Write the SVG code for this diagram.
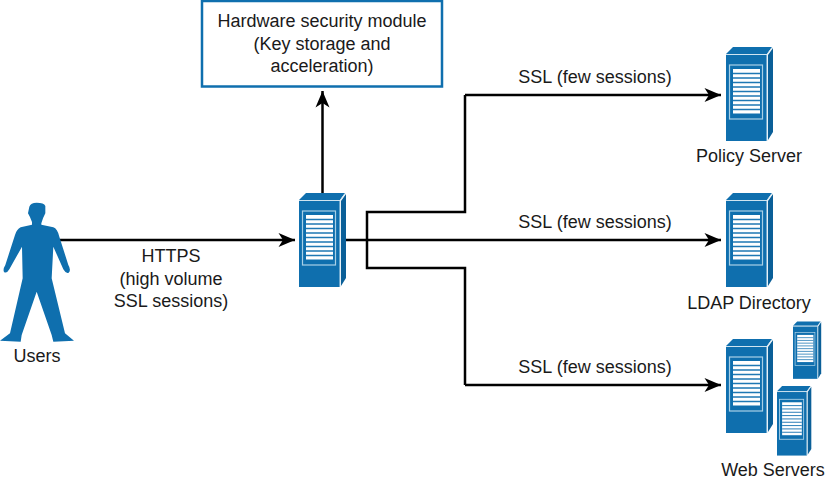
<svg xmlns="http://www.w3.org/2000/svg" xmlns:xlink="http://www.w3.org/1999/xlink" width="828" height="477" viewBox="0 0 828 477">
<style>
text{font-family:"Liberation Sans",Arial,sans-serif;font-size:18px;fill:#1a1a1a;text-anchor:middle}
.c{fill:none;stroke:#000;stroke-width:2.5}
.b{fill:#0f6fae}
.d{fill:#0a5f98}
.w{fill:#fff}
.l{fill:none;stroke:#a9d0e6;stroke-width:1.2}
</style>
<defs>
<marker id="ah" markerUnits="userSpaceOnUse" markerWidth="18" markerHeight="16" refX="17" refY="8" orient="auto"><path d="M17,8 L0.5,1 L5,8 L0.5,15 Z" fill="#000"/></marker>
<g id="srv">
<path class="b" d="M0,7 L7,0 L46,0 L41,7 Z"/>
<rect class="b" x="0" y="8" width="41" height="86"/>
<path class="d" d="M42,8 L47,1 L47,85 L42,93 Z"/>
<path d="M0,7.5 H41 L46,0.5 M41,7.5 V94" fill="none" stroke="#cfe4f0" stroke-width="1"/>
<rect class="l" x="3.5" y="18" width="33" height="54"/>
<rect class="w" x="7" y="22" width="27" height="44.5"/>
<path d="M7,26.5 H34 M7,31 H34 M7,35.500 H34 M7,40 H34 M7,44.500 H34 M7,49 H34 M7,53.500 H34 M7,58 H34 M7,62.500 H34" stroke="#1f78b4" stroke-width="1.300"/>
</g>
</defs>
<g id="connectors">
<path class="c" d="M60,240 H295" marker-end="url(#ah)"/>
<path class="c" d="M322.500,193 V91" marker-end="url(#ah)"/>
<path class="c" d="M346,240 H721" marker-end="url(#ah)"/>
<path class="c" d="M465,95 H721" marker-end="url(#ah)"/>
<path class="c" d="M465,385 H721" marker-end="url(#ah)"/>
<path class="c" d="M465,95 V212 H367 V268 H465 V385"/>
</g>
<g id="hsm">
<rect x="202" y="1" width="240" height="85.500" fill="#fff" stroke="#0f6fae" stroke-width="2.500"/>
<text x="322" y="27">Hardware security module</text>
<text x="322" y="50">(Key storage and</text>
<text x="322" y="72">acceleration)</text>
</g>
<g id="users">
<path class="b" transform="translate(0,190) scale(0.3333)" d="M88,50 Q92,38 110,38 Q132,38 136,48 L136,70 Q128,85 124,100 L124,104 L160,112 Q172,116 178,140 L205,225 Q214,240 206,248 Q198,252 190,238 L160,170 L155,265 L195,430 L222,452 L160,455 L155,435 L110,305 L65,435 L62,455 L0,452 L30,430 L68,265 L66,170 L28,238 Q20,252 12,246 Q8,238 16,225 L45,135 Q50,118 62,112 L96,104 L96,96 Q90,80 84,70 Z"/>
<text x="37" y="362">Users</text>
</g>
<g id="proxy"><use href="#srv" x="299" y="193"/></g>
<g id="https-label">
<text x="171" y="262">HTTPS</text>
<text x="171" y="285">(high volume</text>
<text x="171" y="307">SSL sessions)</text>
</g>
<g id="policy"><use href="#srv" x="726" y="47"/><text x="749" y="162">Policy Server</text></g>
<g id="ldap"><use href="#srv" x="726" y="193"/><text x="749" y="309">LDAP Directory</text></g>
<g id="web">
<use href="#srv" x="726" y="339"/>
<use href="#srv" transform="translate(793,321.500) scale(0.6,0.61)"/>
<use href="#srv" transform="translate(777,386) scale(0.73,0.74)"/>
<text x="773" y="476">Web Servers</text>
</g>
<text x="595" y="83">SSL (few sessions)</text>
<text x="595" y="228">SSL (few sessions)</text>
<text x="595" y="373">SSL (few sessions)</text>
</svg>
